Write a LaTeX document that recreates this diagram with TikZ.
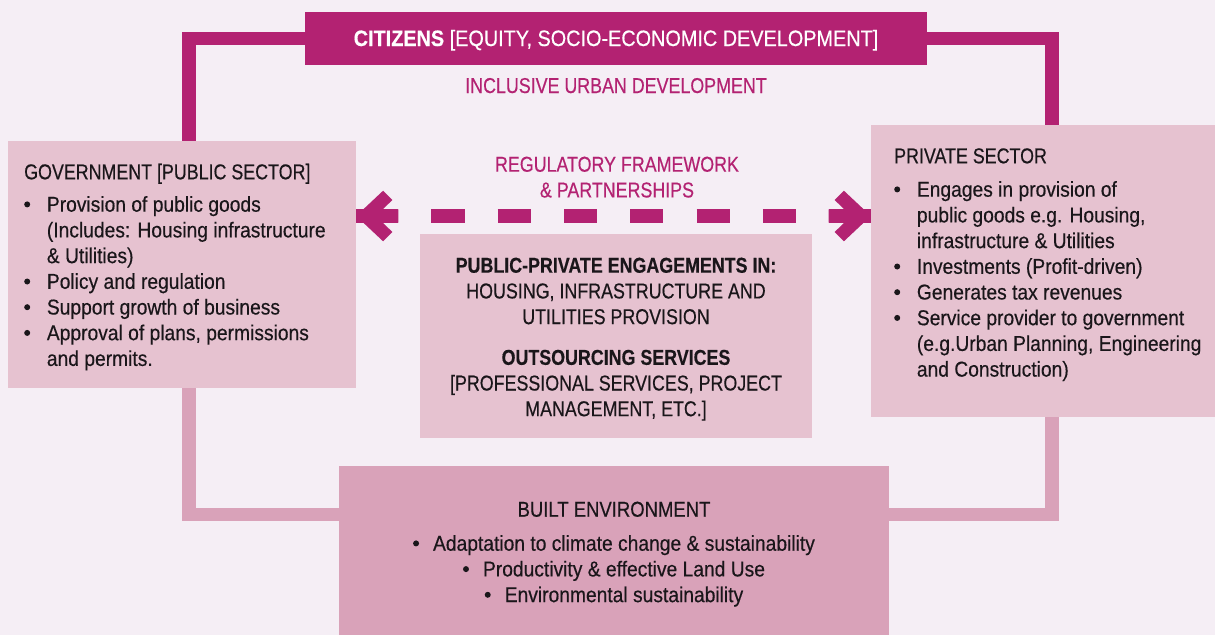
\documentclass[tikz,border=0pt]{standalone}
\usepackage{fontspec}
\setmainfont{Liberation Sans}[FakeStretch=0.895,FakeBold=0.4]
\newfontfamily\capsf{Liberation Sans}[FakeStretch=0.83,FakeBold=0.4]
\newfontfamily\citf{Liberation Sans}[FakeStretch=0.89,FakeBold=0.4]
\newfontfamily\builtf{Liberation Sans}[FakeStretch=0.86,FakeBold=0.4]
\definecolor{bgc}{RGB}{245,238,245}
\definecolor{mag}{RGB}{179,34,114}
\definecolor{boxc}{RGB}{230,194,208}
\definecolor{envc}{RGB}{217,162,185}
\definecolor{ink}{RGB}{26,22,26}
\newcommand\dfont{\fontsize{21.5pt}{25.7pt}\selectfont}
\newcommand\bdot{\raisebox{4.3pt}{\tikz\fill (0,0) circle (3pt);}}
\newcommand\bu{\makebox[22.7pt][l]{\bdot}}
\newcommand\bc{\makebox[20pt][l]{\bdot}}
\begin{document}
\begin{tikzpicture}[x=1pt,y=-1pt,
  box/.style={rectangle, inner sep=0pt, draw=none},
  txt/.style={inner sep=0pt, font=\dfont, text=ink},
  link/.style={line width=13.5pt, line cap=butt, line join=miter}]
\useasboundingbox (0,0) rectangle (1215,635);
\fill[bgc] (0,0) rectangle (1215,635);
% boxes
\node[box, fill=mag, minimum width=622pt, minimum height=53pt] (cit) at (616,38.5) {};
\node[box, fill=boxc, minimum width=348pt, minimum height=247pt] (gov) at (182,264.5) {};
\node[box, fill=boxc, minimum width=344pt, minimum height=292pt] (priv) at (1043,271) {};
\node[box, fill=boxc, minimum width=392pt, minimum height=204pt] (mid) at (616,335.5) {};
\node[box, fill=envc, minimum width=550pt, minimum height=169pt] (built) at (614,550.5) {};
% connectors
\draw[link, mag] ([xshift=7pt]gov.north) |- (cit.west);
\draw[link, mag] (cit.east) -| ([xshift=9pt]priv.north);
\draw[link, envc] ([xshift=7pt]gov.south) |- ([yshift=36pt]built.west);
\draw[link, envc] ([xshift=9pt]priv.south) |- ([yshift=36pt]built.east);
% dashed double arrow
\coordinate (arrowL) at ([yshift=48.5pt]gov.east);
\coordinate (arrowR) at (arrowL -| priv.west);
\draw[mag, line width=13.4pt, dash pattern=on 42.1pt off 33.14pt on 33.14pt off 33.14pt on 33.14pt off 33.14pt on 33.14pt off 33.14pt on 33.14pt off 33.14pt on 33.14pt off 33.14pt on 33.14pt off 33.14pt on 42.1pt off 10pt] (arrowL) -- (arrowR);
\fill[mag, shift={(arrowL)}] (0,0) -- (26.9,-25.3) -- (36.2,-16) -- (26.5,-6.7) -- (42.1,-6.7) -- (42.1,6.7) -- (26.5,6.7) -- (36.2,16) -- (26.9,25.3) -- cycle;
\fill[mag, shift={(arrowR)}, xscale=-1] (0,0) -- (26.9,-25.3) -- (36.2,-16) -- (26.5,-6.7) -- (42.1,-6.7) -- (42.1,6.7) -- (26.5,6.7) -- (36.2,16) -- (26.9,25.3) -- cycle;
% texts
\node[txt, text=white, anchor=base, font=\fontsize{22.3pt}{26pt}\selectfont\citf] (citT) at (616,46) {\textbf{CITIZENS} [EQUITY, SOCIO-ECONOMIC DEVELOPMENT]};
\node[txt, text=mag, anchor=base, font=\dfont\capsf] (incl) at (616,93) {INCLUSIVE URBAN DEVELOPMENT};
\node[txt, text=mag, anchor=base, font=\dfont\capsf] (reg) at (617,171.7) {\begin{tabular}[t]{@{}c@{}}REGULATORY FRAMEWORK\\ \& PARTNERSHIPS\end{tabular}};
\node[txt, anchor=base, font=\dfont\capsf] (midT) at (616,272.7) {\begin{tabular}[t]{@{}c@{}}\textbf{PUBLIC-PRIVATE ENGAGEMENTS IN:}\\ HOUSING, INFRASTRUCTURE AND\\ UTILITIES PROVISION\\[15pt] \textbf{OUTSOURCING SERVICES}\\ {[}PROFESSIONAL SERVICES, PROJECT\\ MANAGEMENT, ETC.]\end{tabular}};
\node[txt, anchor=base west] (govT) at (24,179.3) {\begin{tabular}[t]{@{}l@{}l@{}}\multicolumn{2}{@{}l@{}}{\capsf GOVERNMENT [PUBLIC SECTOR]}\\[6.7pt] \bu & Provision of public goods\\ & (Includes: Housing infrastructure\\ & \& Utilities)\\ \bu & Policy and regulation\\ \bu & Support growth of business\\ \bu & Approval of plans, permissions\\ & and permits.\end{tabular}};
\node[txt, anchor=base west] (privT) at (894,163.3) {\begin{tabular}[t]{@{}l@{}l@{}}\multicolumn{2}{@{}l@{}}{\capsf PRIVATE SECTOR}\\[7.7pt] \bu & Engages in provision of\\ & public goods e.g. Housing,\\ & infrastructure \& Utilities\\ \bu & Investments (Profit-driven)\\ \bu & Generates tax revenues\\ \bu & Service provider to government\\ & (e.g.Urban Planning, Engineering\\ & and Construction)\end{tabular}};
\node[txt, anchor=base] (builtT) at (614,516.7) {\begin{tabular}[t]{@{}c@{}}{\builtf BUILT ENVIRONMENT}\\[8.3pt] \bc Adaptation to climate change \& sustainability\\ \bc Productivity \& effective Land Use\\ \bc Environmental sustainability\end{tabular}};
\end{tikzpicture}
\end{document}
